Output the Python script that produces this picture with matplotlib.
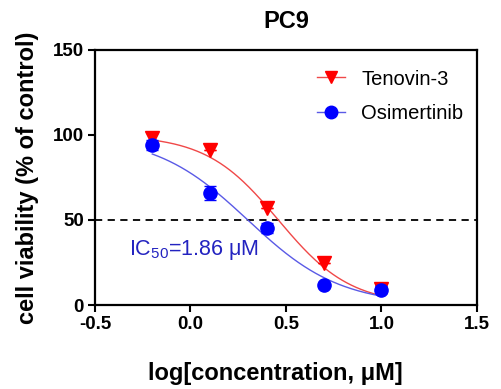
import numpy as np
import matplotlib
matplotlib.use("Agg")
import matplotlib.pyplot as plt

plt.rcParams['font.family'] = ['Liberation Sans', 'DejaVu Sans']
plt.rcParams['mathtext.fontset'] = 'custom'
plt.rcParams['mathtext.rm'] = 'Liberation Sans'
plt.rcParams['mathtext.it'] = 'Liberation Sans'

log_conc = [-0.2, 0.1, 0.4, 0.7, 1.0]
tenovin = [98, 91, 57, 24.5, 9.5]
tenovin_err = [3, 0, 0, 0, 2]
osimertinib = [94, 66, 45.5, 11.5, 9]
osimertinib_err = [3, 4, 3, 0, 2]

# fitted 4PL parameters (top, bottom, logIC50, hill)
tenovin_fit = (100, 0, 0.46, 2.3)
osim_fit = (100, 0, 0.30, 1.8)

xticks = [-0.5, 0.0, 0.5, 1.0, 1.5]
yticks = [0, 50, 100, 150]


def four_pl(x, top, bottom, logic50, hill):
    return bottom + (top - bottom) / (1 + 10 ** (hill * (x - logic50)))


fig = plt.figure(figsize=(5.02, 3.89), dpi=100)
ax = fig.add_axes([95 / 502, 1 - 305 / 389, (477 - 95) / 502, (305 - 50) / 389])

xf = np.linspace(log_conc[0], log_conc[-1], 200)
ax.plot(xf, four_pl(xf, *tenovin_fit), color='#f04848', lw=1.0, zorder=2)
ax.plot(xf, four_pl(xf, *osim_fit), color='#5a5ae6', lw=1.0, zorder=2)

ax.errorbar(log_conc, tenovin, yerr=tenovin_err, fmt='v', color='#ff0000',
            ms=9.5, capsize=4, elinewidth=1, capthick=1, zorder=3)
ax.errorbar(log_conc, osimertinib, yerr=osimertinib_err, fmt='o', color='#0000ff',
            ms=9.5, capsize=4, elinewidth=1, capthick=1, zorder=4)

ax.axhline(50, color='black', lw=1.3, ls=(0, (4, 3)), zorder=1)

# legend handles
h1, = ax.plot([], [], color='#f04848', lw=1.0, marker='v', mfc='#ff0000', mec='#ff0000', ms=9)
h2, = ax.plot([], [], color='#5a5ae6', lw=1.0, marker='o', mfc='#0000ff', mec='#0000ff', ms=9)
ax.legend([h1, h2], ['Tenovin-3', 'Osimertinib'], loc='upper left', frameon=False,
          fontsize=14.5, handlelength=1.4, handletextpad=0.8, labelspacing=0.75,
          borderaxespad=0.0, bbox_to_anchor=(0.56, 0.955))

ax.text(-0.32, 32.5, r'IC$_{50}$=1.86 μM', color='#2323c0', fontsize=15.5,
        ha='left', va='center')

ax.set_xlim(-0.5, 1.5)
ax.set_ylim(0, 150)
ax.set_xticks(xticks)
ax.set_xticklabels(['-0.5', '0.0', '0.5', '1.0', '1.5'])
ax.set_yticks(yticks)
for lab in ax.get_xticklabels() + ax.get_yticklabels():
    lab.set_fontweight('bold')
    lab.set_fontsize(13.5)
ax.tick_params(direction='out', length=5, width=1.5, pad=3)
for s in ax.spines.values():
    s.set_linewidth(1.6)

ax.set_xlabel('log[concentration, μM]', fontsize=17, fontweight='bold', labelpad=20)
ax.xaxis.set_label_coords((275 - 95) / 382, -(372 - 305 - 10) / 255)
ax.set_ylabel('cell viability (% of control)', fontsize=17, fontweight='bold', labelpad=10)
ax.set_title('PC9', fontsize=17, fontweight='bold', pad=16)

fig.savefig('out.png', dpi=100)
